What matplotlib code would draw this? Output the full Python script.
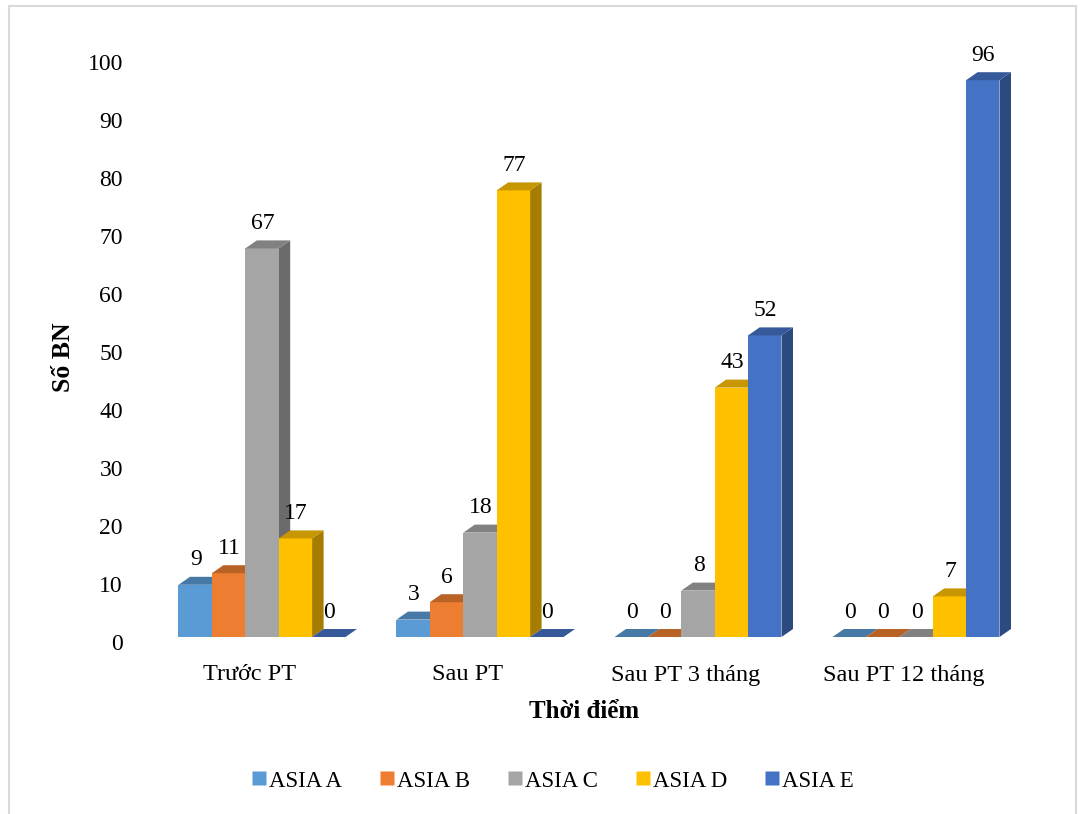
import numpy as np
import matplotlib
matplotlib.use("Agg")
import matplotlib.pyplot as plt
from matplotlib.patches import Polygon, Rectangle
from matplotlib.lines import Line2D
from matplotlib.colors import to_rgb
from matplotlib.transforms import ScaledTranslation

plt.rcParams['font.family'] = ['Liberation Serif', 'DejaVu Serif']

# số liệu
categories = ['Trước PT', 'Sau PT', 'Sau PT 3 tháng', 'Sau PT 12 tháng']
series = ['ASIA A', 'ASIA B', 'ASIA C', 'ASIA D', 'ASIA E']
asia_a = [9, 3, 0, 0]
asia_b = [11, 6, 0, 0]
asia_c = [67, 18, 8, 0]
asia_d = [17, 77, 43, 7]
asia_e = [0, 0, 52, 96]
colors = ['#5B9BD5', '#ED7D31', '#A5A5A5', '#FFC000', '#4472C4']
yticks = list(range(0, 101, 10))

values = [asia_a, asia_b, asia_c, asia_d, asia_e]

W, H, DPI = 1080, 814, 100
fig = plt.figure(figsize=(W / DPI, H / DPI), dpi=DPI)

# vùng vẽ: x từ -0.5 đến 3.5, y từ 0 đến 100
ax_l, ax_r = 141, 1013
ax_b, ax_t = 637, 57
ax = fig.add_axes([ax_l / W, 1 - ax_b / H, (ax_r - ax_l) / W, (ax_b - ax_t) / H])
ax.set_xlim(-0.5, 3.5)
ax.set_ylim(0, 100)
for s in ax.spines.values():
    s.set_visible(False)

# độ sâu 3D tính theo pixel rồi đổi ra đơn vị dữ liệu
px_x = (ax_r - ax_l) / 4.0
px_y = (ax_b - ax_t) / 100.0
dx = 11.5 / px_x
dy = 8 / px_y

bw = 33.4 / px_x
g_off = -0.328


def shade(c, f):
    r, g, b = to_rgb(c)
    return (r * f, g * f, b * f)


for i in range(len(categories)):
    for k in range(len(series)):
        v = values[k][i]
        x0 = i + g_off + k * bw
        x1 = x0 + bw
        c = colors[k]
        if v > 0:
            ax.add_patch(Polygon([(x1, 0), (x1 + dx, dy), (x1 + dx, v + dy), (x1, v)],
                                 closed=True, facecolor=shade(c, 0.65), edgecolor='none', clip_on=False))
            ax.add_patch(Rectangle((x0, 0), bw, v, facecolor=c, edgecolor='none', clip_on=False))
        ax.add_patch(Polygon([(x0, v), (x1, v), (x1 + dx, v + dy), (x0 + dx, v + dy)],
                             closed=True, facecolor=shade(c, 0.78), edgecolor='none', clip_on=False))
        ax.annotate(str(v), (x0 + bw / 2, v), xytext=(0.5, 18), textcoords='offset points',
                    ha='center', va='center', fontsize=17, annotation_clip=False)

ax.set_xticks([])
ax.set_yticks(yticks)
ax.set_yticklabels([str(t) for t in yticks], fontsize=17)
ax.tick_params(axis='y', length=0, pad=13)
# nhãn trục tung nằm trên tường sau nên thấp hơn chân cột một chút
for lab in ax.get_yticklabels():
    lab.set_transform(lab.get_transform() + ScaledTranslation(0, -0.05, fig.dpi_scale_trans))

for i, cat in enumerate(categories):
    ax.text(i, -38 / px_y, cat, ha='center', va='center', fontsize=17.5)

fig.text(584 / W, 1 - 711 / H, 'Thời điểm', ha='center', va='center', fontsize=18, fontweight='bold')
fig.text(64 / W, 1 - 357 / H, 'Số BN', ha='center', va='center', fontsize=18.5,
         fontweight='bold', rotation=90)

handles = [Line2D([], [], marker='s', linestyle='none', markersize=9.5,
                  markerfacecolor=c, markeredgecolor='none') for c in colors]
fig.legend(handles, series, loc='center', bbox_to_anchor=(553 / W, 1 - 781 / H), ncol=5,
           frameon=False, fontsize=16.5, handlelength=0.6, handletextpad=0.15, columnspacing=1.65)

# khung viền của biểu đồ
fig.patches.append(Rectangle((9 / W, -0.02), (1076 - 9) / W, 1.02 - 6 / H, transform=fig.transFigure,
                             fill=False, edgecolor='#D9D9D9', linewidth=1.5))

fig.savefig('out.png', dpi=DPI)
